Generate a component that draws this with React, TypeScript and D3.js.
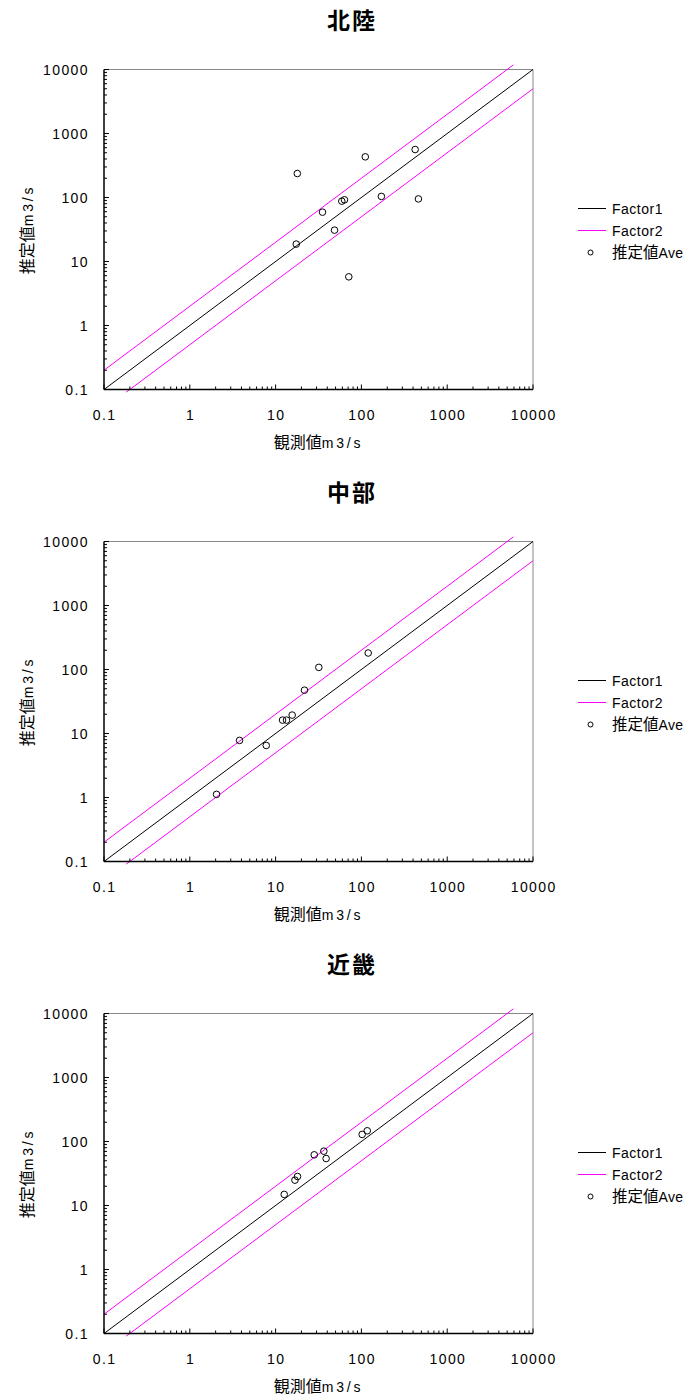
import React from "react";
import * as d3 from "d3";

// Regions and their observed (x) vs estimated (y) discharge, m3/s
const titles = ["北陸", "中部", "近畿"];

const hokurikuObs = [17.9, 17.4, 35.2, 48.6, 59.1, 63.5, 71.3, 111, 171, 423, 462];
const hokurikuEst = [237, 18.7, 59, 30.9, 87.7, 92, 5.76, 432, 104, 562, 95];

const chubuObs = [2.05, 3.8, 7.78, 12.05, 13.4, 15.6, 21.7, 31.9, 120];
const chubuEst = [1.12, 7.8, 6.5, 16.2, 16.2, 19.4, 47.5, 108, 181];

const kinkiObs = [12.6, 16.8, 18.0, 28.2, 36.5, 38.8, 102, 117];
const kinkiEst = [14.9, 24.9, 28.4, 61.9, 70.6, 54.2, 129, 147];

const obsSets = [hokurikuObs, chubuObs, kinkiObs];
const estSets = [hokurikuEst, chubuEst, kinkiEst];

// Reference lines: 1:1 and factor-of-two bounds
const factor1X = [0.1, 10000];
const factor1Y = [0.1, 10000];
const factor2UpperX = [0.1, 5900];
const factor2UpperY = [0.2, 11800];
const factor2LowerX = [0.18, 10000];
const factor2LowerY = [0.09, 5000];

const tickValues = [0.1, 1, 10, 100, 1000, 10000];
const tickLabels = ["0.1", "1", "10", "100", "1000", "10000"];
const legendLabels = ["Factor1", "Factor2"];
const legendPointCjk = "推定値";
const legendPointLatin = "Ave";
const xTitleCjk = "観測値";
const yTitleCjk = "推定値";
const unitText = "m3/s";

const LATIN = "'Liberation Sans', Arial, sans-serif";
const CJK = "'Noto Sans CJK JP', sans-serif";

const plotLeft = 104;
const plotRight = 533;
const plotTop = 69.5;
const plotBottom = 389.5;
const panelStep = 472;

function minorTicks(): number[] {
  const out: number[] = [];
  for (let e = -1; e < 4; e++) {
    for (let m = 2; m <= 9; m++) out.push(m * Math.pow(10, e));
  }
  return out;
}

function Panel({ idx }: { idx: number }) {
  const oy = idx * panelStep;
  const x = d3.scaleLog().domain([0.1, 10000]).range([plotLeft, plotRight]);
  const y = d3.scaleLog().domain([0.1, 10000]).range([plotBottom, plotTop]);
  const line = d3
    .line<[number, number]>()
    .x((d) => x(d[0]))
    .y((d) => y(d[1]));
  const pairs = (xs: number[], ys: number[]) =>
    xs.map((v, i) => [v, ys[i]] as [number, number]);
  const minors = minorTicks();
  const obs = obsSets[idx];
  const est = estSets[idx];
  const midY = (plotTop + plotBottom) / 2;
  const midX = (plotLeft + plotRight) / 2;
  const clipId = `clip-${idx}`;

  return (
    <g transform={`translate(0,${oy})`} fontFamily={LATIN}>
      <text x={352} y={29} textAnchor="middle" fontSize={23} fontWeight="bold" fontFamily={CJK} fill="#000" letterSpacing={2}>
        {titles[idx]}
      </text>
      <defs>
        <clipPath id={clipId}>
          <rect x={plotLeft} y={plotTop - 6} width={plotRight - plotLeft} height={plotBottom - plotTop + 9} />
        </clipPath>
      </defs>
      {/* frame */}
      <line x1={plotLeft} x2={plotRight} y1={plotTop} y2={plotTop} stroke="#888" strokeWidth={1} />
      <line x1={plotRight} x2={plotRight} y1={plotTop} y2={plotBottom} stroke="#888" strokeWidth={1} />
      {/* minor ticks */}
      {minors.map((v, i) => (
        <g key={`m${i}`}>
          <line x1={x(v)} x2={x(v)} y1={plotBottom} y2={plotBottom - 3} stroke="#000" />
          <line x1={plotLeft} x2={plotLeft + 3} y1={y(v)} y2={y(v)} stroke="#000" />
        </g>
      ))}
      {tickValues.map((v, i) => (
        <g key={`t${i}`}>
          <line x1={x(v)} x2={x(v)} y1={plotBottom} y2={plotBottom - 5} stroke="#000" />
          <line x1={plotLeft} x2={plotLeft + 5} y1={y(v)} y2={y(v)} stroke="#000" />
          <text x={x(v) + 0.7} y={plotBottom + 30.5} textAnchor="middle" fontSize={14} letterSpacing={1.4} fill="#000">
            {tickLabels[i]}
          </text>
          <text x={89} y={y(v) + 5.5} textAnchor="end" fontSize={14} letterSpacing={1.4} fill="#000">
            {tickLabels[i]}
          </text>
        </g>
      ))}
      <g clipPath={`url(#${clipId})`}>
        <path d={line(pairs(factor1X, factor1Y)) || ""} stroke="#000" strokeWidth={1} fill="none" />
        <path d={line(pairs(factor2UpperX, factor2UpperY)) || ""} stroke="#ff00ff" strokeWidth={1} fill="none" />
        <path d={line(pairs(factor2LowerX, factor2LowerY)) || ""} stroke="#ff00ff" strokeWidth={1} fill="none" />
      </g>
      <line x1={plotLeft} x2={plotRight} y1={plotBottom} y2={plotBottom} stroke="#000" strokeWidth={1.5} />
      <line x1={plotLeft} x2={plotLeft} y1={plotTop} y2={plotBottom} stroke="#000" strokeWidth={1.5} />
      {obs.map((v, i) => (
        <circle key={`p${i}`} cx={x(v)} cy={y(est[i])} r={3.3} fill="none" stroke="#000" strokeWidth={1} />
      ))}
      {/* axis titles */}
      <text x={midX} y={plotBottom + 58.5} textAnchor="middle" fill="#000">
        <tspan fontFamily={CJK} fontSize={16}>{xTitleCjk}</tspan>
        <tspan fontSize={14} letterSpacing={2.8}>{unitText}</tspan>
      </text>
      <text transform={`translate(33,${midY}) rotate(-90)`} textAnchor="middle" fill="#000">
        <tspan fontFamily={CJK} fontSize={16}>{yTitleCjk}</tspan>
        <tspan fontSize={14} letterSpacing={2.8}>{unitText}</tspan>
      </text>
      {/* legend */}
      <g fill="#000">
        <line x1={578} x2={606} y1={208.5} y2={208.5} stroke="#000" />
        <text x={612} y={213.5} fontSize={14} letterSpacing={0.5}>{legendLabels[0]}</text>
        <line x1={578} x2={606} y1={230.5} y2={230.5} stroke="#ff00ff" />
        <text x={612} y={235.5} fontSize={14} letterSpacing={0.5}>{legendLabels[1]}</text>
        <circle cx={590.5} cy={252.5} r={2.5} fill="none" stroke="#000" />
        <text x={612} y={257.5}>
          <tspan fontFamily={CJK} fontSize={15.5}>{legendPointCjk}</tspan>
          <tspan fontSize={14} letterSpacing={0.3}>{legendPointLatin}</tspan>
        </text>
      </g>
    </g>
  );
}

export default function App() {
  return (
    <svg
      width={697}
      height={1397}
      style={{ position: "absolute", left: 0, top: 0, background: "#fff" }}
    >
      <rect width={697} height={1397} fill="#fff" />
      {titles.map((_, i) => (
        <Panel key={i} idx={i} />
      ))}
    </svg>
  );
}
